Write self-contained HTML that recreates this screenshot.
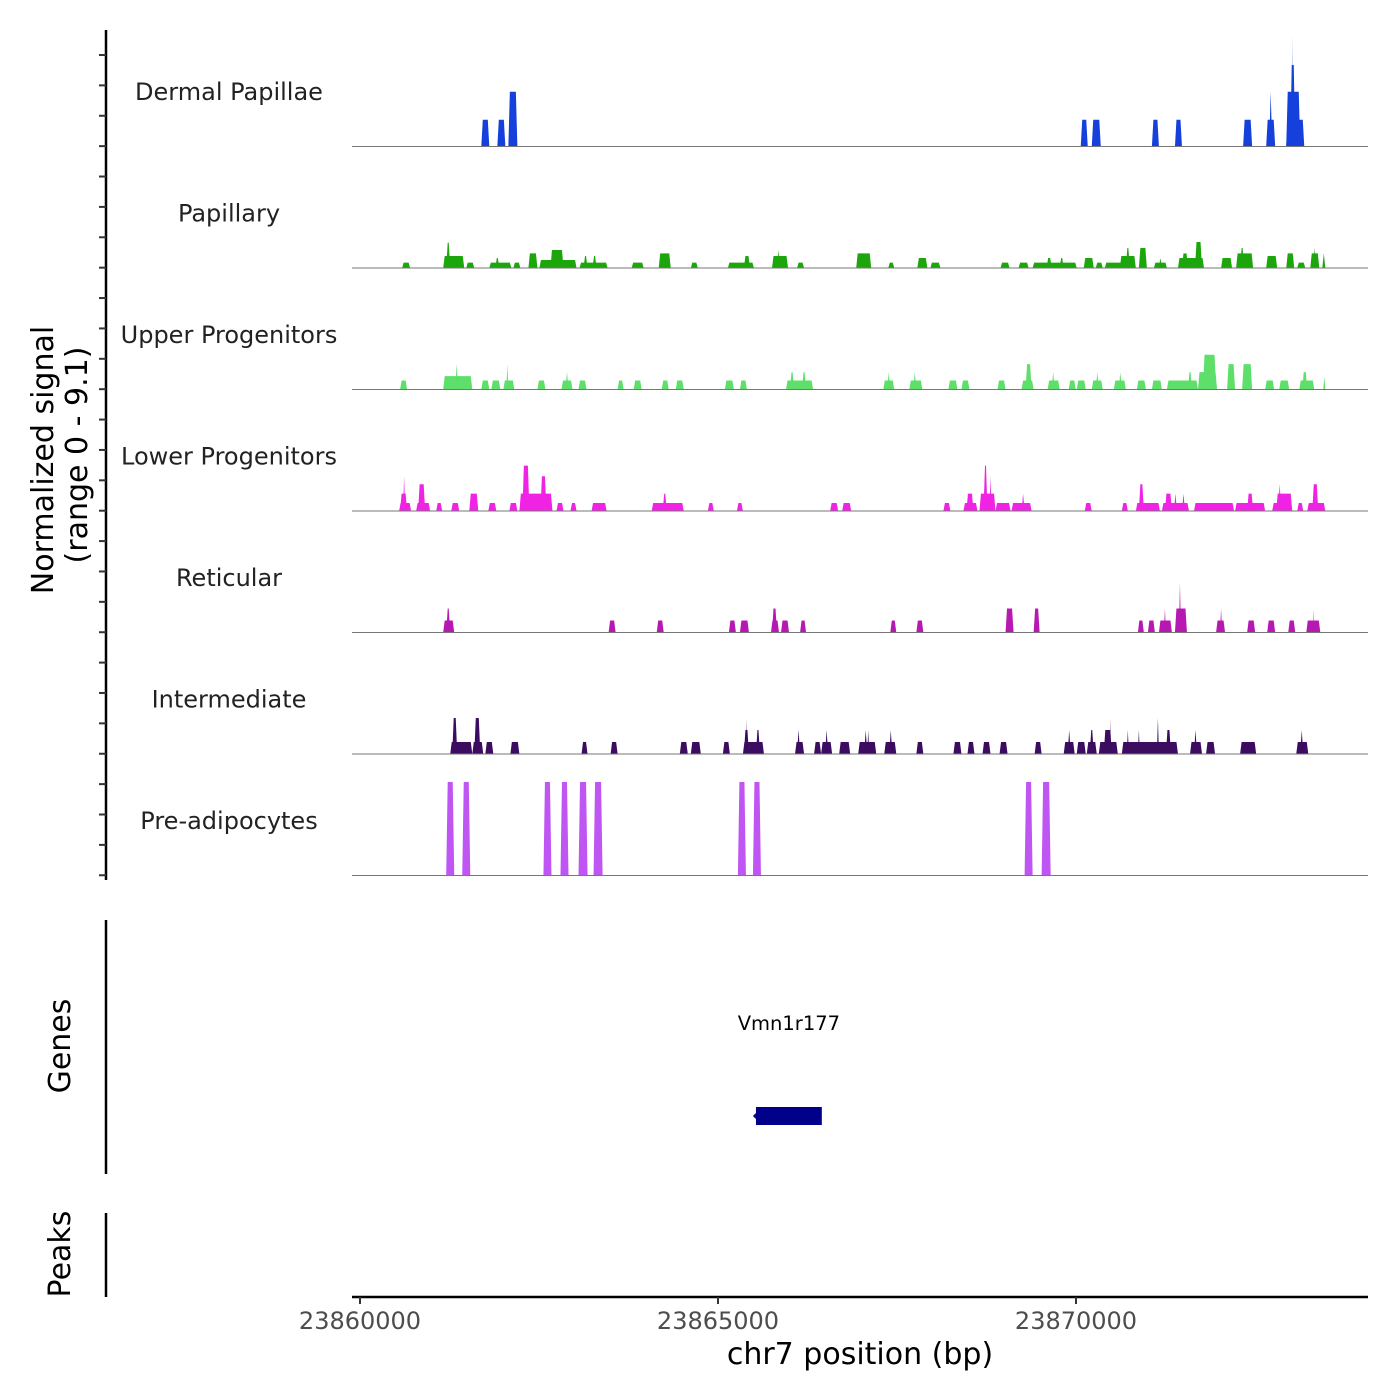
<!DOCTYPE html>
<html><head><meta charset="utf-8">
<style>
body{margin:0;background:#fff;}
svg{display:block;font-family:"DejaVu Sans","Liberation Sans",sans-serif;}
</style></head>
<body>
<svg id="chart" width="1400" height="1400" viewBox="0 0 1400 1400" xmlns="http://www.w3.org/2000/svg">
<g id="tracks"></g>
<g id="axes"></g>
</svg>
<script>
const regionStart = 23860000;
const regionEnd = 23874080;
const yMax = 9.1;
const trackNames = ["Dermal Papillae","Papillary","Upper Progenitors","Lower Progenitors","Reticular","Intermediate","Pre-adipocytes"];
const trackColors = ["#1540dc","#1ca60c","#5ddf6a","#f022e4","#b818b2","#3b0c60","#bf55f2"];
// segments: [startOffsetBp, endOffsetBp, signal]
const dermalPapillae = [[1694,1806,2.0],[1918,2030,2.0],[2072,2198,4.1],[10066,10164,2.0],[10220,10346,2.0],[11060,11158,2.0],[11382,11480,2.0],[12334,12460,2.0],[12656,12782,2.0],[12698,12740,4.1],[12936,13188,2.0],[12936,13132,4.1],[12992,13062,6.1],[13020,13034,8.2]];
const papillary = [[588,700,0.4],[1162,1456,0.9],[1204,1260,1.9],[1484,1596,0.4],[1806,2114,0.4],[1890,1946,0.75],[2142,2240,0.4],[2352,2478,1.1],[2506,3024,0.6],[2660,2842,1.35],[3066,3458,0.4],[3122,3178,0.9],[3248,3304,0.9],[3794,3962,0.4],[4172,4340,1.1],[4620,4718,0.4],[5138,5502,0.4],[5362,5446,0.9],[5754,5978,0.9],[5824,5866,1.35],[6104,6202,0.4],[6930,7140,1.1],[7378,7462,0.4],[7784,7924,0.75],[7966,8106,0.4],[8946,9072,0.4],[9198,9338,0.4],[9394,10010,0.4],[9590,9660,0.75],[9772,9828,0.75],[10108,10248,0.75],[10276,10374,0.4],[10402,10836,0.4],[10612,10836,0.9],[10696,10752,1.5],[10878,10990,1.5],[11088,11270,0.4],[11158,11200,0.75],[11424,11788,0.75],[11480,11564,1.1],[11662,11760,1.95],[12026,12180,0.75],[12236,12474,1.1],[12292,12348,1.5],[12656,12810,0.9],[12936,13048,1.1],[13090,13202,0.4],[13272,13398,1.1],[13314,13356,1.5],[13440,13482,1.1]];
const upperProgenitors = [[560,658,0.67],[1162,1568,1.0],[1330,1372,1.9],[1694,1806,0.67],[1834,1960,0.67],[2002,2156,0.67],[2044,2072,1.9],[2478,2590,0.67],[2814,2968,0.67],[2870,2912,1.3],[3052,3164,0.67],[3598,3682,0.67],[3822,3934,0.67],[4214,4312,0.67],[4410,4522,0.67],[5096,5222,0.67],[5306,5404,0.67],[5950,6328,0.67],[6006,6062,1.3],[6174,6230,1.3],[7308,7462,0.67],[7364,7406,1.3],[7672,7854,0.67],[7728,7770,1.3],[8218,8344,0.67],[8400,8512,0.67],[8904,9016,0.67],[9240,9408,0.67],[9296,9380,1.9],[9604,9772,0.67],[9660,9702,1.3],[9898,9996,0.67],[10010,10136,0.67],[10220,10374,0.67],[10276,10318,1.3],[10528,10696,0.67],[10598,10640,1.3],[10850,10976,0.67],[11060,11200,0.67],[11270,11704,0.67],[11564,11620,1.3],[11704,11970,1.3],[11774,11956,2.6],[12110,12222,1.9],[12320,12460,1.9],[12642,12768,0.67],[12838,12978,0.67],[13118,13328,0.67],[13160,13230,1.3],[13454,13482,1.0]];
const lowerProgenitors = [[546,714,0.6],[560,658,1.3],[602,630,2.6],[784,980,0.6],[812,910,2.0],[1064,1148,0.6],[1274,1386,0.6],[1526,1652,1.3],[1792,1904,0.6],[2086,2198,0.6],[2226,2688,1.3],[2268,2366,3.4],[2520,2604,2.6],[2744,2842,0.6],[2940,3024,0.6],[3234,3444,0.6],[4074,4522,0.6],[4228,4284,1.3],[4858,4942,0.6],[5264,5348,0.6],[6566,6678,0.6],[6734,6860,0.6],[8148,8246,0.6],[8428,8624,0.6],[8470,8568,1.3],[8652,8876,1.3],[8708,8764,3.4],[8792,8820,2.6],[8876,9086,0.6],[9100,9380,0.6],[9240,9282,1.3],[10122,10220,0.6],[10640,10724,0.6],[10836,11172,0.6],[10878,10948,2.0],[11200,11578,0.6],[11242,11340,1.3],[11368,11410,1.3],[11480,11522,1.3],[11648,12208,0.6],[12222,12642,0.6],[12390,12474,1.3],[12740,13020,0.6],[12796,13020,1.3],[12824,12866,2.0],[13090,13174,0.6],[13230,13482,0.6],[13300,13384,2.0]];
const reticular = [[1162,1316,0.9],[1204,1260,1.8],[3472,3570,0.9],[4144,4242,0.9],[5152,5250,0.9],[5306,5432,0.9],[5740,5852,0.9],[5754,5824,1.8],[5880,5992,0.9],[6146,6230,0.9],[7406,7490,0.9],[7770,7868,0.9],[9016,9128,1.8],[9408,9492,1.8],[10864,10948,0.9],[11004,11102,0.9],[11158,11340,0.9],[11228,11256,1.8],[11382,11550,1.8],[11438,11466,3.7],[11956,12082,0.9],[12012,12040,1.8],[12390,12502,0.9],[12670,12782,0.9],[12964,13062,0.9],[13216,13412,0.9],[13314,13328,1.8]];
const intermediate = [[1260,1568,0.9],[1288,1358,2.7],[1568,1722,0.9],[1596,1680,2.7],[1750,1862,0.9],[2100,2226,0.9],[3094,3178,0.9],[3500,3598,0.9],[4466,4578,0.9],[4620,4760,0.9],[5068,5166,0.9],[5348,5642,0.9],[5362,5432,1.8],[5390,5404,2.7],[5530,5586,1.8],[6076,6202,0.9],[6104,6146,1.8],[6342,6440,0.9],[6440,6594,0.9],[6496,6538,1.8],[6692,6846,0.9],[6958,7210,0.9],[7042,7084,1.8],[7084,7112,1.8],[7322,7490,0.9],[7392,7434,1.8],[7770,7868,0.9],[8288,8400,0.9],[8484,8582,0.9],[8694,8806,0.9],[8932,9044,0.9],[9422,9520,0.9],[9828,9982,0.9],[9884,9926,1.8],[10010,10136,0.9],[10150,10290,0.9],[10192,10248,1.8],[10318,10584,0.9],[10388,10500,1.8],[10472,10486,2.7],[10640,11424,0.9],[10710,10738,1.8],[10864,10892,1.8],[11130,11158,2.7],[11256,11326,1.8],[11592,11760,0.9],[11648,11690,1.8],[11816,11942,0.9],[12292,12516,0.9],[13076,13244,0.9],[13132,13174,1.8]];
const preAdipocytes = [[1204,1316,7.0],[1428,1540,7.0],[2562,2674,7.0],[2800,2912,7.0],[3052,3178,7.0],[3262,3388,7.0],[5278,5390,7.0],[5488,5600,7.0],[9282,9394,7.0],[9520,9646,7.0]];
const trackData = [dermalPapillae,papillary,upperProgenitors,lowerProgenitors,reticular,intermediate,preAdipocytes];
const xTicks = [23860000,23865000,23870000];
const geneName = "Vmn1r177";
const geneStart = 23865530;
const geneEnd = 23866450;

const NS="http://www.w3.org/2000/svg";
const plotL=352, plotR=1368, trackTop=25, trackH=121.5;
function xScale(bp){ return 360 + (bp-regionStart)*(358/5000); }
function yScale(v, i){ const base=trackTop+trackH*(i+1); return base - v*(trackH/yMax); }
function mk(tag, attrs, parent){ const e=document.createElementNS(NS,tag); for(const k in attrs) e.setAttribute(k,attrs[k]); parent.appendChild(e); return e; }

const tg=document.getElementById('tracks');
trackData.forEach((segs,i)=>{
  const g=mk('g',{},tg);
  
  
  const base=yScale(0,i);
  segs.forEach(s=>{
    const x0=xScale(regionStart+s[0]), x1=xScale(regionStart+s[1]);
    const yt=yScale(s[2],i);
    const sl=Math.min(1.5,(x1-x0)/2);
    const p=mk('polygon',{points:`${x0},${base} ${x0+sl},${yt} ${x1-sl},${yt} ${x1},${base}`,fill:trackColors[i]},g);
    
    
  });
  const bl=mk('line',{x1:plotL,x2:plotR,y1:base,y2:base,stroke:'#777','stroke-width':1},g);
  
  
  const t=mk('text',{x:229,y:trackTop+trackH*i+75,'text-anchor':'middle','font-size':24,fill:'#222'},g);
  t.textContent=trackNames[i];
  
  
});

const ax=document.getElementById('axes');
let l=mk('line',{x1:106,x2:106,y1:30,y2:880,stroke:'#000','stroke-width':2.5},ax);


for(let k=0;k<=27;k++){
  const y=55+k*30.38;
  const tk=mk('line',{x1:99,x2:106,y1:y,y2:y,stroke:'#333','stroke-width':2},ax);
  
  
}
let t1=mk('text',{transform:'translate(53,460) rotate(-90)','text-anchor':'middle','font-size':30,fill:'#000'},ax);
t1.textContent='Normalized signal';


let t2=mk('text',{transform:'translate(87,455) rotate(-90)','text-anchor':'middle','font-size':30,fill:'#000'},ax);
t2.textContent='(range 0 - 9.1)';



l=mk('line',{x1:106,x2:106,y1:920,y2:1174,stroke:'#000','stroke-width':2.5},ax);


let tg2=mk('text',{transform:'translate(70,1046) rotate(-90)','text-anchor':'middle','font-size':30,fill:'#000'},ax);
tg2.textContent='Genes';


l=mk('line',{x1:106,x2:106,y1:1213,y2:1297,stroke:'#000','stroke-width':2.5},ax);


let tp=mk('text',{transform:'translate(70,1254) rotate(-90)','text-anchor':'middle','font-size':30,fill:'#000'},ax);
tp.textContent='Peaks';



const gx0=xScale(geneStart), gx1=xScale(geneEnd);
let gr=mk('rect',{x:gx0,y:1107,width:gx1-gx0,height:18,fill:'#00008b'},ax);


let ga=mk('polygon',{points:`${gx0-3},1116 ${gx0},1113 ${gx0},1119`,fill:'#00008b'},ax);


let gl=mk('text',{x:(gx0+gx1)/2,y:1030,'text-anchor':'middle','font-size':19.5,fill:'#000'},ax);
gl.textContent=geneName;



l=mk('line',{x1:plotL,x2:plotR,y1:1297,y2:1297,stroke:'#000','stroke-width':2.5},ax);


xTicks.forEach(v=>{
  const x=xScale(v);
  const tk=mk('line',{x1:x,x2:x,y1:1297,y2:1304,stroke:'#333','stroke-width':2},ax);
  
  
  const tl=mk('text',{x:x,y:1329,'text-anchor':'middle','font-size':24,fill:'#4d4d4d'},ax);
  tl.textContent=String(v);
  
  
});
let xt=mk('text',{x:860,y:1364,'text-anchor':'middle','font-size':30,fill:'#000'},ax);
xt.textContent='chr7 position (bp)';


</script>
</body></html>
